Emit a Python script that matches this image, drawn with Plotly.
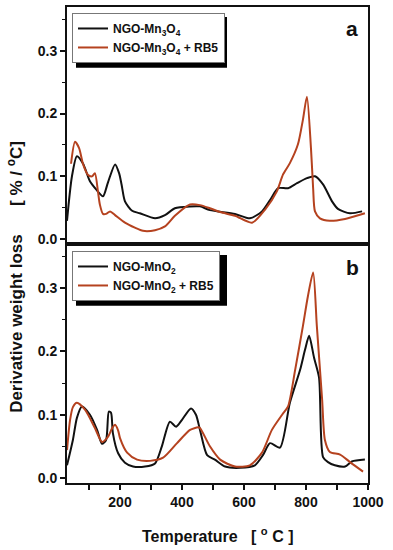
import plotly.graph_objects as go

# ---------------- data ----------------
t_a_mn3o4 = [29, 45, 61, 81, 103, 123, 145, 161, 184, 197, 205, 216, 239, 264, 313, 345, 377, 426, 458,
             490, 571, 619, 658, 684, 710, 742, 771, 803, 829, 855, 884, 903, 942, 981]
v_a_mn3o4 = [0.029, 0.100, 0.132, 0.120, 0.092, 0.079, 0.068, 0.090, 0.119, 0.105, 0.087, 0.060, 0.045,
             0.041, 0.033, 0.038, 0.049, 0.052, 0.052, 0.046, 0.040, 0.033, 0.044, 0.062, 0.081, 0.081,
             0.089, 0.097, 0.100, 0.087, 0.060, 0.048, 0.041, 0.044]

t_a_rb5 = [42, 55, 68, 81, 97, 110, 119, 129, 135, 145, 155, 168, 184, 216, 248, 274, 313, 345, 377, 426,
           458, 490, 523, 571, 626, 668, 706, 726, 748, 774, 790, 803, 816, 823, 829, 845, 877, 926, 990]
v_a_rb5 = [0.120, 0.155, 0.145, 0.119, 0.102, 0.100, 0.105, 0.075, 0.055, 0.040, 0.040, 0.044, 0.038,
           0.026, 0.018, 0.013, 0.014, 0.020, 0.037, 0.055, 0.054, 0.049, 0.043, 0.037, 0.026, 0.047,
           0.076, 0.103, 0.121, 0.151, 0.190, 0.227, 0.145, 0.081, 0.044, 0.033, 0.029, 0.032, 0.041]

t_b_mno2 = [29, 48, 61, 77, 103, 126, 142, 155, 164, 171, 177, 194, 216, 242, 281, 313, 335, 361, 381,
            400, 429, 445, 458, 481, 506, 539, 587, 635, 661, 684, 716, 748, 781, 797, 810, 826, 842,
            855, 871, 893, 926, 948, 990]
v_b_mno2 = [0.020, 0.060, 0.095, 0.113, 0.100, 0.076, 0.054, 0.060, 0.105, 0.103, 0.071, 0.039, 0.024,
            0.018, 0.018, 0.023, 0.050, 0.089, 0.081, 0.092, 0.110, 0.100, 0.076, 0.036, 0.029, 0.018,
            0.016, 0.020, 0.036, 0.055, 0.048, 0.119, 0.171, 0.203, 0.225, 0.190, 0.159, 0.033, 0.025,
            0.020, 0.018, 0.026, 0.029]

t_b_rb5 = [29, 39, 48, 61, 87, 119, 142, 161, 174, 184, 194, 200, 223, 255, 297, 339, 384, 426, 452,
           458, 490, 523, 571, 619, 658, 690, 723, 742, 765, 790, 806, 823, 835, 852, 861, 877, 910,
           942, 984]
v_b_rb5 = [0.044, 0.092, 0.112, 0.119, 0.108, 0.079, 0.057, 0.065, 0.078, 0.084, 0.075, 0.063, 0.040,
           0.029, 0.027, 0.032, 0.055, 0.076, 0.080, 0.079, 0.050, 0.029, 0.018, 0.020, 0.040, 0.076,
           0.100, 0.113, 0.171, 0.240, 0.287, 0.325, 0.240, 0.124, 0.060, 0.041, 0.037, 0.025, 0.010]

names_a = ["NGO-Mn<sub>3</sub>O<sub>4</sub>", "NGO-Mn<sub>3</sub>O<sub>4</sub> + RB5"]
names_b = ["NGO-MnO<sub>2</sub>", "NGO-MnO<sub>2</sub> + RB5"]
y_ticks = [0.0, 0.1, 0.2, 0.3]
y_tick_text = ["0.0", "0.1", "0.2", "0.3"]

# ---------------- styling ----------------
FONT = "Liberation Sans, Arial, sans-serif"
BLACK = "#111111"
RED = "#b5421f"
L, R, T, B = 67, 25, 5, 67
W, H = 393, 550
PW, PH = W - L - R, H - T - B


def px_x(x):
    return (x - L) / PW


def px_y(y):
    return (H - B - y) / PH


split = px_y(243)

fig = go.Figure()
line_kw = dict(shape="spline", smoothing=0.7, width=2)
fig.add_trace(go.Scatter(x=t_a_mn3o4, y=v_a_mn3o4, mode="lines", name=names_a[0],
                         line=dict(color=BLACK, **line_kw), xaxis="x", yaxis="y", legend="legend"))
fig.add_trace(go.Scatter(x=t_a_rb5, y=v_a_rb5, mode="lines", name=names_a[1],
                         line=dict(color=RED, **line_kw), xaxis="x", yaxis="y", legend="legend"))
fig.add_trace(go.Scatter(x=t_b_mno2, y=v_b_mno2, mode="lines", name=names_b[0],
                         line=dict(color=BLACK, **line_kw), xaxis="x2", yaxis="y2", legend="legend2"))
fig.add_trace(go.Scatter(x=t_b_rb5, y=v_b_rb5, mode="lines", name=names_b[1],
                         line=dict(color=RED, **line_kw), xaxis="x2", yaxis="y2", legend="legend2"))

tickfont = dict(family=FONT, size=14, color="#111", weight="bold")
xr = [29, 1000]
yr = [-0.008, 0.37]

yaxis_common = dict(range=yr, tickvals=y_ticks, ticktext=y_tick_text, ticks="outside", ticklen=5,
                    tickwidth=1.5, tickcolor=BLACK, showline=True, linewidth=2, linecolor=BLACK,
                    mirror=True, showgrid=False, zeroline=False, tickfont=tickfont,
                    minor=dict(tickvals=[0.05, 0.15, 0.25, 0.35], ticks="outside", ticklen=3,
                               tickwidth=1.2, tickcolor=BLACK))

legend_font = dict(family=FONT, size=12, color="#111", weight="bold")

fig.update_layout(
    width=W, height=H,
    margin=dict(l=L, r=R, t=T, b=B),
    paper_bgcolor="white", plot_bgcolor="white",
    font=dict(family=FONT, color="#111"),
    xaxis=dict(domain=[0, 1], anchor="y", range=xr, showticklabels=False, ticks="",
               showline=True, linewidth=2, linecolor=BLACK, mirror=True, showgrid=False,
               zeroline=False),
    yaxis=dict(domain=[split, 1], anchor="x", **yaxis_common),
    xaxis2=dict(domain=[0, 1], anchor="y2", range=xr, tick0=0, dtick=200, ticks="outside",
                ticklen=5, tickwidth=1.5, tickcolor=BLACK, showline=True, linewidth=2,
                linecolor=BLACK, mirror=True, showgrid=False, zeroline=False, tickfont=tickfont,
                minor=dict(tick0=0, dtick=100, ticks="outside", ticklen=5, tickwidth=1.5,
                           tickcolor=BLACK)),
    yaxis2=dict(domain=[0, split], anchor="x2", **yaxis_common),
    legend=dict(x=px_x(72), y=px_y(11), xanchor="left", yanchor="top", bgcolor="white",
                bordercolor="#777", borderwidth=1, itemwidth=30, tracegroupgap=0,
                font=legend_font),
    legend2=dict(x=px_x(72), y=px_y(250), xanchor="left", yanchor="top", bgcolor="white",
                 bordercolor="#777", borderwidth=1, itemwidth=30, tracegroupgap=0,
                 font=legend_font),
    showlegend=True,
)

# legend drop shadows
for (x0, y0, x1, y1) in [(76, 15, 227, 66), (76, 254, 227, 305)]:
    fig.add_shape(type="rect", xref="paper", yref="paper", x0=px_x(x0), x1=px_x(x1),
                  y0=px_y(y1), y1=px_y(y0), fillcolor="black", line=dict(width=0))

# panel letters
for letter, yy in [("a", 27), ("b", 267)]:
    fig.add_annotation(text=letter, xref="paper", yref="paper", x=px_x(352), y=px_y(yy),
                       showarrow=False, xanchor="center", yanchor="middle",
                       font=dict(family=FONT, size=21, color="#111", weight="bold"))

# axis titles
fig.add_annotation(text="Temperature   [ <sup>o</sup> C ]", xref="paper", yref="paper",
                   x=px_x(217), y=px_y(535), showarrow=False, xanchor="center", yanchor="middle",
                   font=dict(family=FONT, size=16, color="#111", weight="bold"))
fig.add_annotation(text="Derivative weight loss      [ % / <sup>o</sup>C]", xref="paper",
                   yref="paper", x=px_x(15), y=px_y(276), showarrow=False, xanchor="center",
                   yanchor="middle", textangle=-90,
                   font=dict(family=FONT, size=17, color="#111", weight="bold"))

fig.write_html("out.html", config={"displayModeBar": False},
               post_script="document.body.style.margin='0';document.body.style.padding='0';")
